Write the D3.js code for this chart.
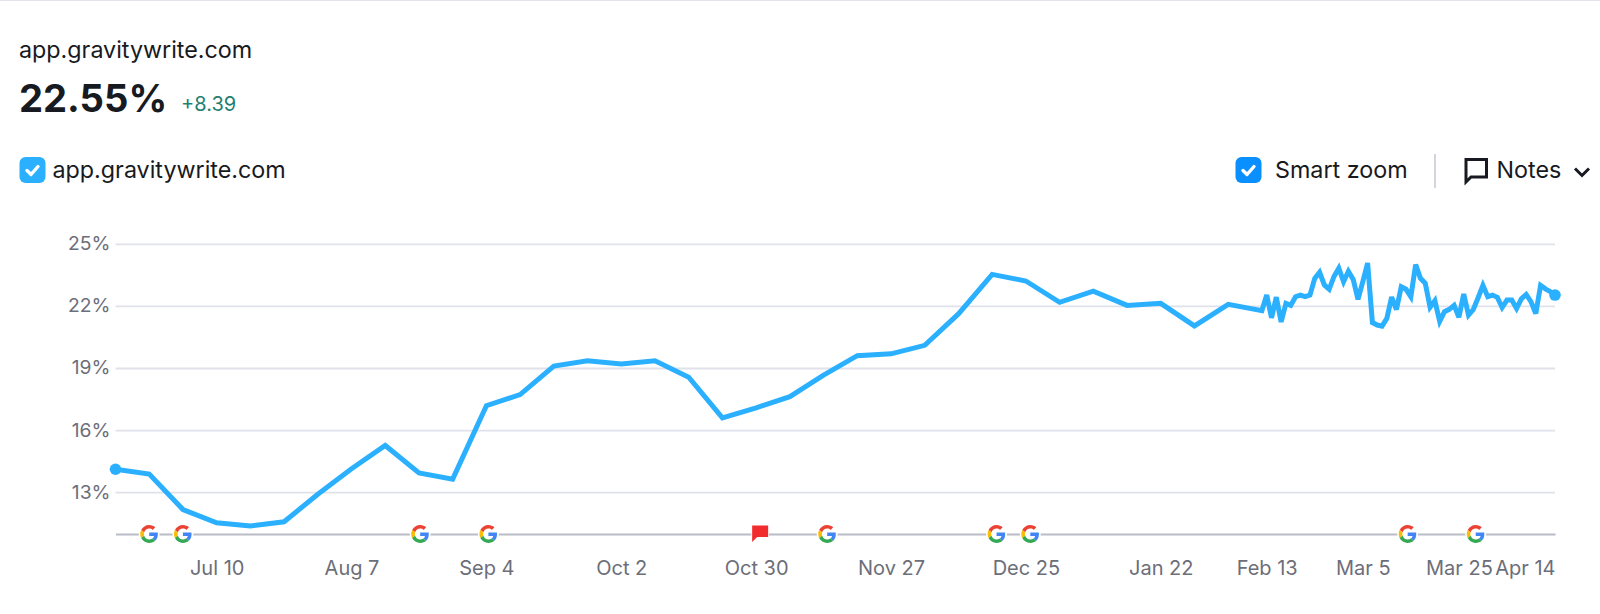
<!DOCTYPE html>
<html><head><meta charset="utf-8">
<script src="https://cdn.jsdelivr.net/npm/d3@7/dist/d3.min.js"></script>
<style>
html,body{margin:0;padding:0;background:#fff;overflow:hidden}
svg{display:block}
text{font-family:Inter,sans-serif}
</style></head><body>
<svg id="c" width="1600" height="614"></svg>
<script>
const siteName = "app.gravitywrite.com";
const currentValue = "22.55%";
const changeValue = "+8.39";
const weeklyValues = [14.13,13.9,12.18,11.54,11.39,11.59,12.92,14.15,15.28,13.95,13.65,17.2,17.74,19.12,19.37,19.22,19.37,18.58,16.61,17.1,17.64,18.68,19.62,19.71,20.12,21.64,23.55,23.23,22.2,22.74,22.05,22.15,21.06,22.1,21.8];
const dailyValues = [22.55,21.45,22.45,21.25,22.15,22.05,22.47,22.55,22.47,22.55,23.36,23.65,23.04,22.83,23.45,23.85,23.2,23.7,23.31,22.34,23.2,24.1,21.22,21.1,21.05,21.42,22.45,21.85,22.95,22.83,22.47,24.02,23.36,23.12,21.96,22.28,21.28,21.75,21.86,22.05,21.48,22.6,21.58,21.85,22.42,23.02,22.47,22.55,22.44,21.95,22.31,22.31,21.9,22.37,22.58,22.23,21.65,23.02,22.85,22.72,22.55];
const yTicks = [25,22,19,16,13];
const xTickLabels = ["Jul 10","Aug 7","Sep 4","Oct 2","Oct 30","Nov 27","Dec 25","Jan 22","Feb 13","Mar 5","Mar 25","Apr 14"];
const googleEvents = ["Jun 26 2022 00","Jul 3 2022 00","Aug 21 2022 06","Sep 4 2022 10","Nov 13 2022 18","Dec 18 2022 22","Dec 25 2022 22","Mar 14 2023 08","Mar 28 2023 12"];
const flagEvents = ["Oct 30 2022 20"];

const parse = d3.timeParse("%b %d %Y");
const parseEvent = d3.timeParse("%b %d %Y %H");
const start = new Date(2022,5,19), weekEnd = new Date(2023,1,12), end = new Date(2023,3,14);
const weekly = weeklyValues.map((v,i)=>({date:d3.timeDay.offset(start,i*7),v}));
const daily = dailyValues.map((v,i)=>({date:d3.timeDay.offset(weekEnd,i+1),v}));
const data = weekly.concat(daily);

const x = d3.scaleTime().domain([start,weekEnd,end]).range([115.5,1261.9,1555]);
const y = d3.scaleLinear().domain([13,25]).range([492.6,244.4]);
const baseY = 534;

const svg = d3.select("#c");
const ink = "#181a21", axisInk = "#6c6e79", blue = "#2bb0ff";
svg.append("line").attr("x1",0).attr("x2",1600).attr("y1",0.5).attr("y2",0.5).attr("stroke","#e4e5ec");

svg.append("text").attr("x",19).attr("y",58).attr("font-size",23.3).attr("fill",ink).text(siteName);
svg.append("text").attr("x",19).attr("y",112).attr("font-size",38.2).attr("font-weight",700).attr("fill",ink).text(currentValue);
svg.append("text").attr("x",181).attr("y",111).attr("font-size",20).attr("fill","#1f7f73").text(changeValue);

function checkbox(px,color){
  const g = svg.append("g").attr("transform",`translate(${px},157)`);
  g.append("rect").attr("width",26).attr("height",26).attr("rx",6).attr("fill",color);
  g.append("path").attr("d","M7.5 13.5l4 4 7-8").attr("fill","none").attr("stroke","#fff").attr("stroke-width",3.4).attr("stroke-linecap","round").attr("stroke-linejoin","round");
}
checkbox(19.5,blue);
svg.append("text").attr("x",52.5).attr("y",178).attr("font-size",23.3).attr("fill",ink).text(siteName);
checkbox(1235.5,"#0a8fff");
svg.append("text").attr("x",1275).attr("y",178).attr("font-size",23.3).attr("fill",ink).text("Smart zoom");
svg.append("line").attr("x1",1435).attr("x2",1435).attr("y1",154).attr("y2",188).attr("stroke","#c4c6d2").attr("stroke-width",1.5);
svg.append("path").attr("d","M1466 159.5h20.5v17.5h-15.5l-5 5z").attr("fill","none").attr("stroke",ink).attr("stroke-width",3).attr("stroke-linejoin","miter");
svg.append("text").attr("x",1496.5).attr("y",178).attr("font-size",23.3).attr("fill",ink).text("Notes");
svg.append("path").attr("d","M1575 168.5l7 7 7-7").attr("fill","none").attr("stroke",ink).attr("stroke-width",3);

// y axis and gridlines
const yAxis = d3.axisRight(y).tickValues(yTicks).tickSize(1555-115.5).tickFormat(d=>d+"%");
const gy = svg.append("g").attr("transform","translate(115.5,-0.5)").call(yAxis);
gy.select(".domain").remove();
gy.selectAll("line").attr("stroke","#e0e1ea").attr("stroke-width",1.8);
gy.selectAll("text").attr("x",-5).attr("y",-1).attr("text-anchor","end").attr("dy","0.36em").attr("font-size",19.3).attr("fill",axisInk).attr("font-family","Inter,sans-serif");

// x axis
const dates = xTickLabels.map(s=>parse(s+" "+(/^(Jul|Aug|Sep|Oct|Nov|Dec)/.test(s)?2022:2023)));
const xAxis = d3.axisBottom(x).tickValues(dates).tickSize(0).tickPadding(0).tickFormat((d,i)=>xTickLabels[i]);
const gx = svg.append("g").attr("transform",`translate(0,${baseY})`).call(xAxis);
gx.select(".domain").attr("stroke","#babcc8").attr("stroke-width",1.8);
gx.selectAll("text").attr("y",36).attr("dy","0").attr("dominant-baseline","middle").attr("font-size",20).attr("fill",axisInk).attr("font-family","Inter,sans-serif");
gx.selectAll(".tick").filter((d,i)=>i===xTickLabels.length-1).select("text").attr("text-anchor","end");

// line
const line = d3.line().x(d=>x(d.date)).y(d=>y(d.v));
svg.append("path").datum(data).attr("d",line).attr("fill","none").attr("stroke",blue).attr("stroke-width",5).attr("stroke-linejoin","miter").attr("stroke-miterlimit",3);
svg.selectAll(".dot").data([data[0],data[data.length-1]]).join("circle").attr("class","dot")
  .attr("cx",d=>x(d.date)).attr("cy",d=>y(d.v)).attr("r",5.8).attr("fill",blue);

// event markers
const gPaths = [["#EA4335","M24 9.5c3.54 0 6.71 1.22 9.21 3.6l6.85-6.85C35.9 2.38 30.47 0 24 0 14.62 0 6.51 5.38 2.56 13.22l7.98 6.19C12.43 13.72 17.74 9.5 24 9.5z"],
["#4285F4","M46.98 24.55c0-1.57-.15-3.09-.38-4.55H24v9.02h12.94c-.58 2.96-2.26 5.48-4.78 7.18l7.73 6c4.51-4.18 7.09-10.36 7.09-17.65z"],
["#FBBC05","M10.53 28.59c-.48-1.45-.76-2.99-.76-4.59s.27-3.14.76-4.59l-7.98-6.19C.92 16.46 0 20.12 0 24c0 3.88.92 7.54 2.56 10.78l7.97-6.19z"],
["#34A853","M24 48c6.48 0 11.93-2.13 15.89-5.81l-7.73-6c-2.15 1.45-4.92 2.3-8.16 2.3-6.26 0-11.57-4.22-13.47-9.91l-7.98 6.19C6.51 42.62 14.62 48 24 48z"]];
googleEvents.forEach(s=>{
  const g = svg.append("g").attr("transform",`translate(${x(parseEvent(s))},${baseY})`);
  g.append("circle").attr("r",10.5).attr("fill","#fff");
  const k = g.append("g").attr("transform","translate(-9,-9) scale(0.375)");
  gPaths.forEach(p=>k.append("path").attr("fill",p[0]).attr("d",p[1]));
});
flagEvents.forEach(s=>{
  const g = svg.append("g").attr("transform",`translate(${x(parseEvent(s))},${baseY})`);
  g.append("path").attr("d","M-8 -8.5h16v11.5h-11l-5 5z").attr("fill","#f22c2c").attr("stroke","#fff").attr("stroke-width",1.5).attr("paint-order","stroke");
});
</script>
</body></html>
